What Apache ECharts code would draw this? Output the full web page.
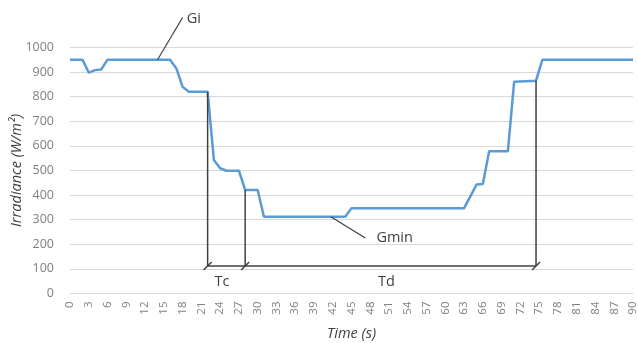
<!DOCTYPE html>
<html>
<head>
<meta charset="utf-8">
<script src="https://cdn.jsdelivr.net/npm/echarts@6/dist/echarts.min.js"></script>
<style>
html,body{margin:0;padding:0;background:#fff;}
#chart{width:638px;height:343px;}
</style>
</head>
<body>
<div id="chart"></div>
<script>
// Time (s) breakpoints and irradiance (W/m²)
var timeS = [0, 2, 3, 4, 5, 6, 16, 17, 18, 19, 22, 23, 24, 25, 27, 28, 30, 31, 44, 45, 63, 64, 65, 66, 67, 70, 71, 74.5, 75.5, 90];
var irradiance = [950, 950, 898, 908, 911, 950, 950, 915, 840, 820, 820, 543, 509, 499, 499, 421, 421, 312, 312, 347, 347, 395, 443, 445, 578, 578, 861, 865, 950, 950];

var yTicks = [0, 100, 200, 300, 400, 500, 600, 700, 800, 900, 1000];

// Annotation geometry in data units (time, irradiance)
var tcStart = 22, tcEnd = 28, tdEnd = 74.5, bracketLevel = 112;
var topTc = 820, topMid = 421, topTd = 865;
var giPointer = [[14, 950], [18, 1122]];
var giLabel = [19.8, 1115];
var gminPointer = [[41.7, 312], [47.2, 226]];
var gminLabel = [51.9, 225];
var tcLabel = [24.3, 49];
var tdLabel = [50.6, 49];

var chart = echarts.init(document.getElementById('chart'));
var FONT = '"Open Sans", "Liberation Sans", sans-serif';

chart.setOption({
  animation: false,
  backgroundColor: '#ffffff',
  grid: { left: 70, right: 5, top: 47.5, bottom: 49.5, containLabel: false, outerBoundsMode: 'none' },
  xAxis: {
    type: 'value', min: 0, max: 90, interval: 3,
    name: 'Time (s)', nameLocation: 'middle', nameGap: 33, nameMoveOverlap: false,
    nameTextStyle: { fontFamily: FONT, fontStyle: 'italic', fontSize: 14.5, color: '#404040' },
    axisLine: { show: true, lineStyle: { color: '#d9d9d9', width: 1 } },
    axisTick: { show: false },
    splitLine: { show: false },
    axisLabel: { rotate: 90, margin: 8, fontFamily: FONT, fontSize: 11.5, color: '#808080', hideOverlap: false }
  },
  yAxis: {
    type: 'value', min: yTicks[0], max: yTicks[yTicks.length - 1], interval: 100,
    name: 'Irradiance (W/m\u00B2)', nameLocation: 'middle', nameGap: 53, nameRotate: 90, nameMoveOverlap: false,
    nameTextStyle: { fontFamily: FONT, fontStyle: 'italic', fontSize: 14.5, color: '#404040', verticalAlign: 'middle' },
    axisLine: { show: false }, axisTick: { show: false },
    splitLine: { lineStyle: { color: '#d9d9d9', width: 1 } },
    axisLabel: { margin: 16, fontFamily: FONT, fontSize: 12.5, color: '#808080', formatter: function (v) { return String(v); } }
  },
  series: [{
    type: 'line',
    data: timeS.map(function (t, i) { return [t, irradiance[i]]; }),
    showSymbol: false, symbol: 'none',
    lineStyle: { color: '#5b9bd5', width: 2.5 },
    clip: false, z: 3
  }]
});

function px(p) { return chart.convertToPixel({ gridIndex: 0 }, p); }
var ink = '#404040';
var g = [];
function seg(a, b, w) {
  var A = px(a), B = px(b);
  g.push({ type: 'line', shape: { x1: A[0], y1: A[1], x2: B[0], y2: B[1] }, style: { stroke: ink, lineWidth: w || 1.5 }, z: 10 });
}
function slash(p) {
  var P = px(p);
  g.push({ type: 'line', shape: { x1: P[0] - 4, y1: P[1] + 4, x2: P[0] + 4, y2: P[1] - 4 }, style: { stroke: ink, lineWidth: 1.5 }, z: 10 });
}
function label(p, s) {
  var P = px(p);
  g.push({ type: 'text', x: P[0], y: P[1], style: { text: s, fill: '#404040', font: '14.5px ' + FONT, textAlign: 'center', textVerticalAlign: 'middle' }, z: 10 });
}
seg([tcStart, topTc], [tcStart, bracketLevel]);
seg([tcEnd, topMid], [tcEnd, bracketLevel]);
seg([tdEnd, topTd], [tdEnd, bracketLevel]);
seg([tcStart, bracketLevel], [tdEnd, bracketLevel]);
slash([tcStart, bracketLevel]);
slash([tcEnd, bracketLevel]);
slash([tdEnd, bracketLevel]);
seg(giPointer[0], giPointer[1], 1.2);
seg(gminPointer[0], gminPointer[1], 1.2);
label(giLabel, 'Gi');
label(gminLabel, 'Gmin');
label(tcLabel, 'Tc');
label(tdLabel, 'Td');
chart.setOption({ graphic: g });
</script>
</body>
</html>
